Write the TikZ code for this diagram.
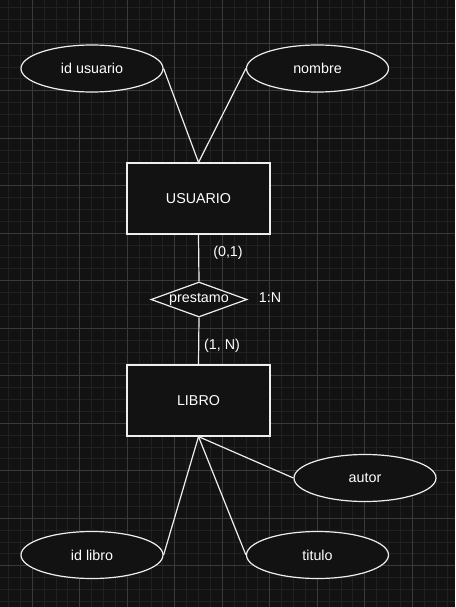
\documentclass[tikz,border=0pt]{standalone}
\usepackage{fontspec}
\setmainfont{Liberation Sans}
\usetikzlibrary{shapes}
\definecolor{bg}{RGB}{18,18,18}
\definecolor{minorgrid}{RGB}{33,33,33}
\definecolor{majorgrid}{RGB}{58,58,58}
\definecolor{edge}{RGB}{238,238,238}

\begin{document}
\begin{tikzpicture}[x=1pt,y=-1pt,
  every node/.style={font=\fontsize{14.3}{17}\selectfont, text=white},
  attr/.style={ellipse, draw=edge, fill=bg, line width=1.2pt, minimum width=142pt, minimum height=47pt, inner sep=0pt},
  entity/.style={rectangle, draw=edge, fill=bg, line width=1.2pt, minimum width=143pt, minimum height=71pt, inner sep=0pt},
  rel/.style={diamond, draw=edge, fill=bg, line width=1.2pt, aspect=2.74, minimum width=96pt, minimum height=35pt, inner sep=0pt},
  link/.style={draw=edge, line width=1.2pt}]
\fill[bg] (0,0) rectangle (455,607);
\useasboundingbox (0,0) rectangle (455,607);
% grid
\foreach \x in {8.55,20.425,...,455} \draw[minorgrid, line width=1pt] (\x,0) -- (\x,607);
\foreach \y in {7.675,19.55,...,607} \draw[minorgrid, line width=1pt] (0,\y) -- (455,\y);
\foreach \x in {32.3,79.8,...,455} \draw[majorgrid, line width=1pt] (\x,0) -- (\x,607);
\foreach \y in {43.3,90.8,...,607} \draw[majorgrid, line width=1pt] (0,\y) -- (455,\y);

% entities and relation
\node[entity] (usuario) at (198.5,198.5) {USUARIO};
\node[rel] (prestamo) at (199,299.5) {prestamo};
\node[entity] (libro) at (198.5,400.5) {LIBRO};

% attributes
\node[attr] (idusuario) at (92,68.5) {id usuario};
\node[attr] (nombre) at (317.5,68.5) {nombre};
\node[attr] (autor) at (365,478) {autor};
\node[attr] (idlibro) at (92,555) {id libro};
\node[attr] (titulo) at (317.5,555) {titulo};

% cardinalities
\node (cardu) at (228,253) {(0,1)};
\node (cardr) at (270,298) {1:N};
\node (cardl) at (222,346) {(1, N)};

\draw[link] (idusuario.east) -- (usuario.north);
\draw[link] (nombre.west) -- (usuario.north);
\draw[link] (usuario.south) -- (prestamo.north);
\draw[link] (prestamo.south) -- (libro.north);
\draw[link] (libro.south) -- (autor.west);
\draw[link] (libro.south) -- (titulo.west);
\draw[link] (libro.south) -- (idlibro.east);
\end{tikzpicture}
\end{document}
